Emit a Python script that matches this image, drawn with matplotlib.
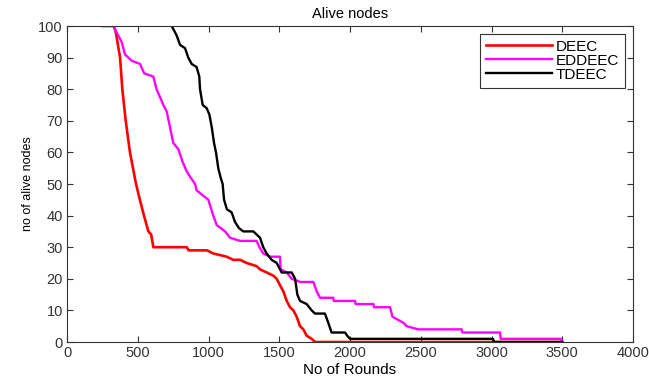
import matplotlib
matplotlib.use("Agg")
import matplotlib.pyplot as plt

plt.rcParams['font.family'] = ['Liberation Sans', 'DejaVu Sans']

# values (rounds, alive nodes)
deec_x = [250, 330, 345, 375, 391, 415, 445, 488, 515, 544, 575, 595, 610, 846, 860, 990,
          1034, 1128, 1175, 1223, 1270, 1340, 1364, 1411, 1458, 1482, 1505, 1529, 1553,
          1576, 1600, 1623, 1647, 1670, 1694, 1729, 1753, 3500]
deec_y = [100, 100, 98, 90, 80, 70, 60, 50, 45, 40, 35, 34, 30, 30, 29, 29,
          28, 27, 26, 26, 25, 24, 23, 22, 21, 20, 18, 16, 13,
          11, 10, 8, 5, 4, 2, 1, 0, 0]

eddeec_x = [327, 351, 386, 410, 457, 516, 546, 610, 633, 681, 704, 728, 751, 787, 817,
            846, 874, 905, 916, 999, 1034, 1058, 1117, 1152, 1223, 1340, 1360, 1387,
            1435, 1505, 1510, 1553, 1588, 1647, 1741, 1765, 1788, 1882, 1885, 2035,
            2040, 2166, 2170, 2283, 2300, 2340, 2380, 2400, 2483, 2789, 2795, 3060,
            3065, 3490, 3500]
eddeec_y = [100, 98, 95, 91, 89, 88, 85, 84, 80, 75, 73, 68, 63, 61, 57,
            54, 52, 50, 48, 45, 40, 37, 35, 33, 32, 32, 30, 28,
            27, 27, 23, 22, 20, 19, 19, 16, 14, 14, 13, 13,
            12, 12, 11, 11, 8, 7, 6, 5, 4, 4, 3, 3,
            1, 1, 0]

tdeec_x = [740, 775, 799, 834, 857, 881, 916, 935, 940, 959, 987, 1006, 1023, 1039,
           1053, 1069, 1086, 1100, 1110, 1130, 1164, 1187, 1216, 1246, 1317, 1364,
           1387, 1411, 1446, 1482, 1517, 1588, 1612, 1628, 1647, 1694, 1729, 1753,
           1823, 1847, 1870, 1965, 1980, 2000, 3010, 3020, 3500]
tdeec_y = [100, 97, 94, 93, 90, 88, 87, 84, 80, 75, 74, 72, 68, 63,
           60, 55, 52, 50, 45, 42, 41, 38, 36, 35, 35, 33,
           30, 28, 26, 25, 22, 22, 20, 15, 13, 12, 10, 9,
           9, 6, 3, 3, 2, 1, 1, 0, 0]

fig = plt.figure(figsize=(6.49, 3.79), dpi=100)
ax = fig.add_axes([67 / 649, 1 - 342 / 379, 566 / 649, 316 / 379])

ax.plot(deec_x, deec_y, color="#ff0000", lw=1.9, label="DEEC")
ax.plot(eddeec_x, eddeec_y, color="#ff00ff", lw=1.7, label="EDDEEC")
ax.plot(tdeec_x, tdeec_y, color="black", lw=1.7, label="TDEEC")

ax.set_xlim(0, 4000)
ax.set_ylim(0, 100)
ax.set_xticks(range(0, 4001, 500))
ax.set_yticks(range(0, 101, 10))
ax.tick_params(direction="in", top=True, right=True, labelsize=10.5,
               colors="#333333", length=4, pad=3)
for s in ax.spines.values():
    s.set_color("#333333")

ax.set_title("Alive nodes", fontsize=10.5, pad=6)
ax.set_xlabel("No of Rounds", fontsize=11, labelpad=2)
ax.set_ylabel("no of alive nodes", fontsize=9, labelpad=3)

leg = ax.legend(loc="upper right", fontsize=11, fancybox=False, framealpha=1,
                edgecolor="#333333", handlelength=4.3, handletextpad=0.25,
                borderpad=0.4, labelspacing=0.0, borderaxespad=0.5)
leg.get_frame().set_linewidth(0.8)

fig.savefig("out.png", dpi=100)
